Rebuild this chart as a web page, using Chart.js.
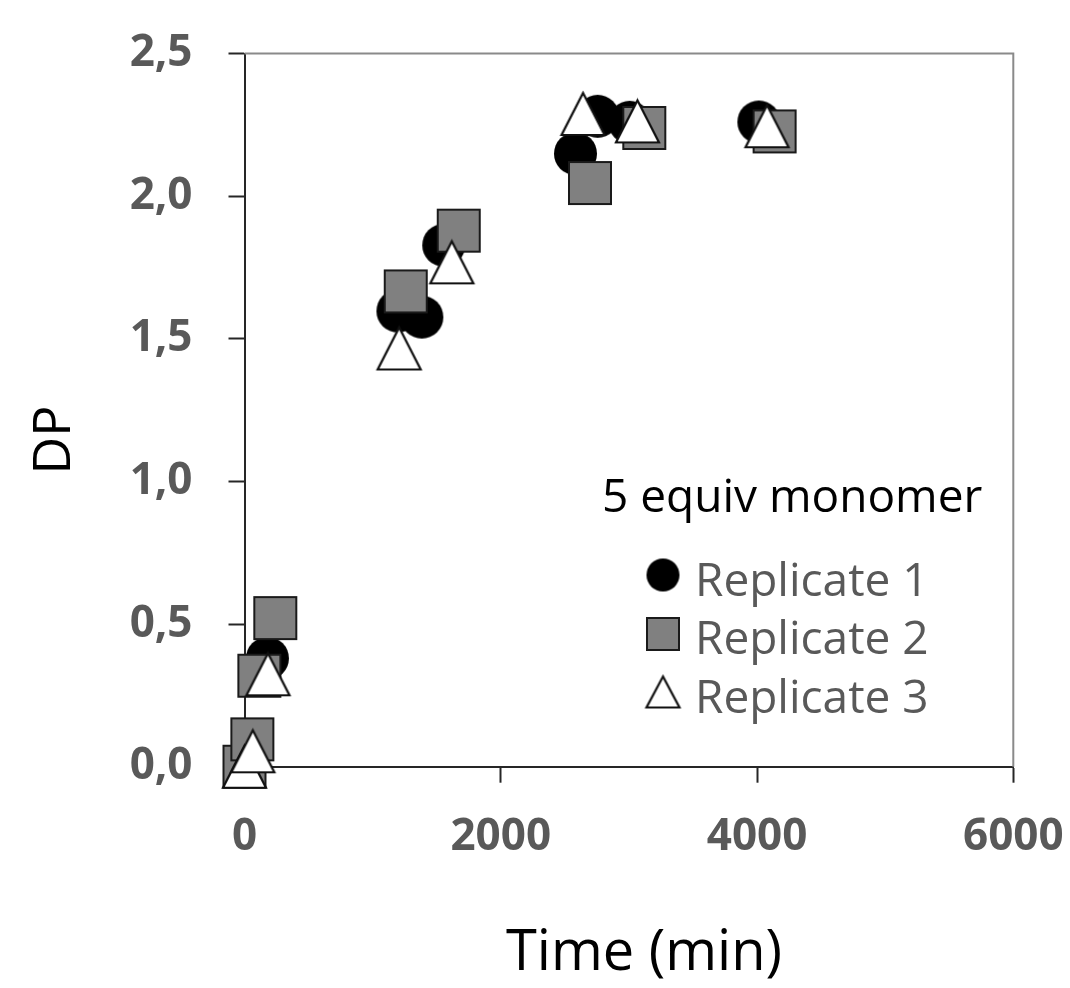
<!DOCTYPE html>
<html><head><meta charset="utf-8">
<script src="https://cdn.jsdelivr.net/npm/chart.js@4.4.1/dist/chart.umd.min.js"></script>
<style>html,body{margin:0;padding:0;background:#fff;} #wrap{width:1070px;height:988px;position:relative;}</style>
</head><body><div id="wrap"><canvas id="c" width="1070" height="988"></canvas></div>
<script>
// ---- data ----
const seriesNames = ['Replicate 1', 'Replicate 2', 'Replicate 3'];
const legendTitle = '5 equiv monomer';
const rep1Time = [0, 179, 1197, 1384, 1555, 2583, 2756, 3006, 4014];
const rep1DP   = [0, 0.38, 1.597, 1.576, 1.828, 2.149, 2.28, 2.259, 2.26];
const rep2Time = [0, 61, 116, 240, 1258, 1672, 2696, 3120, 4137];
const rep2DP   = [0, 0.096, 0.319, 0.521, 1.666, 1.879, 2.046, 2.239, 2.227];
const rep3Time = [0, 65, 183, 1207, 1618, 2642, 3067, 4078];
const rep3DP   = [0, 0.054, 0.324, 1.466, 1.768, 2.288, 2.262, 2.245];
const xTickValues = [0, 2000, 4000, 6000];
const xTickLabels = ['0', '2000', '4000', '6000'];
const yTickValues = [0, 0.5, 1, 1.5, 2, 2.5];
const yTickLabels = ['0,0', '0,5', '1,0', '1,5', '2,0', '2,5'];
const xTitle = 'Time (min)';
const yTitle = 'DP';

// ---- marker images ----
function makeMarker(type, w, h) {
  const pad = 3;
  const c = document.createElement('canvas');
  const dpr = window.devicePixelRatio || 1;
  c.width = (w + pad * 2) * dpr; c.height = (h + pad * 2) * dpr;
  const g = c.getContext('2d');
  g.scale(dpr, dpr);
  const cx = pad + w / 2, cy = pad + h / 2;
  g.lineJoin = 'miter';
  if (type === 'circle') {
    g.beginPath(); g.arc(cx, cy, w / 2, 0, Math.PI * 2);
    g.fillStyle = '#000'; g.fill();
  } else if (type === 'square') {
    g.fillStyle = '#808080'; g.fillRect(pad, pad, w, h);
    g.strokeStyle = '#1a1a1a'; g.lineWidth = 2; g.strokeRect(pad, pad, w, h);
  } else {
    g.beginPath(); g.moveTo(cx, pad); g.lineTo(pad + w, pad + h); g.lineTo(pad, pad + h); g.closePath();
    g.fillStyle = '#fff'; g.fill();
    g.strokeStyle = '#111'; g.lineWidth = 2.2; g.stroke();
  }
  const out = new Image();
  out.width = w + pad * 2; out.height = h + pad * 2;
  out.src = c.toDataURL();
  return out;
}
const plotMarkers = [makeMarker('circle', 43, 43), makeMarker('square', 42, 42), makeMarker('triangle', 43, 42)];
const legendMarkers = [makeMarker('circle', 33, 33), makeMarker('square', 32, 32), makeMarker('triangle', 33, 31)];

function pts(xs, ys) { return xs.map((x, i) => ({ x: x, y: ys[i] })); }

const framePlugin = {
  id: 'frame',
  beforeDatasetsDraw(chart) {
    const { ctx, chartArea: a } = chart;
    ctx.save();
    ctx.strokeStyle = '#8a8a8a'; ctx.lineWidth = 2;
    ctx.beginPath(); ctx.moveTo(a.left, a.top); ctx.lineTo(a.right, a.top); ctx.lineTo(a.right, a.bottom); ctx.stroke();
    ctx.restore();
  }
};

const titlesPlugin = {
  id: 'axisTitles',
  afterDraw(chart) {
    const ctx = chart.ctx;
    ctx.save();
    ctx.fillStyle = '#000';
    ctx.textAlign = 'center'; ctx.textBaseline = 'middle';
    ctx.font = '56px "Open Sans"';
    ctx.fillText(xTitle, 644, 954);
    ctx.translate(55, 440);
    ctx.rotate(-Math.PI / 2);
    ctx.font = '52px "Open Sans"';
    ctx.fillText(yTitle, 0, 0);
    ctx.restore();
  }
};

const legendPlugin = {
  id: 'insideLegend',
  afterDatasetsDraw(chart) {
    const ctx = chart.ctx;
    ctx.save();
    ctx.font = '46px "Open Sans"';
    ctx.fillStyle = '#000';
    ctx.textAlign = 'left'; ctx.textBaseline = 'middle';
    ctx.fillText(legendTitle, 602, 499);
    const rowsMarker = [575, 634, 692];
    const rowsText = [583, 641, 700];
    chart.data.datasets.forEach((ds, i) => {
      const m = legendMarkers[i];
      ctx.drawImage(m, 663 - m.width / 2, rowsMarker[i] - m.height / 2, m.width, m.height);
      ctx.fillStyle = '#595959';
      ctx.fillText(ds.label, 695, rowsText[i]);
    });
    ctx.restore();
  }
};

function build() {
  new Chart(document.getElementById('c'), {
    type: 'scatter',
    data: {
      datasets: [
        { label: seriesNames[0], data: pts(rep1Time, rep1DP), pointStyle: plotMarkers[0], order: 3, clip: false },
        { label: seriesNames[1], data: pts(rep2Time, rep2DP), pointStyle: plotMarkers[1], order: 2, clip: false },
        { label: seriesNames[2], data: pts(rep3Time, rep3DP), pointStyle: plotMarkers[2], order: 1, clip: false }
      ]
    },
    options: {
      responsive: false,
      animation: false,
      events: [],
      layout: { padding: { top: 53.5, right: 56.7, left: 0, bottom: 0 } },
      plugins: { legend: { display: false }, tooltip: { enabled: false } },
      scales: {
        x: {
          type: 'linear', position: 'bottom', min: 0, max: 6000,
          afterBuildTicks: s => { s.ticks = xTickValues.map(v => ({ value: v })); },
          afterFit: s => { s.height = 988 - 766.7; s.paddingLeft = 0; s.paddingRight = 0; },
          ticks: {
            callback: v => xTickLabels[xTickValues.indexOf(v)],
            font: { family: 'Open Sans', size: 44, weight: 'bold' }, color: '#595959',
            padding: 28, maxRotation: 0, autoSkip: false
          },
          grid: { drawOnChartArea: false, drawTicks: true, tickLength: 16, tickColor: '#262626', tickWidth: 2 },
          border: { display: true, color: '#262626', width: 2 },
          title: { display: false, text: xTitle }
        },
        y: {
          type: 'linear', position: 'left', min: 0, max: 2.5,
          afterBuildTicks: s => { s.ticks = yTickValues.map(v => ({ value: v })); },
          afterFit: s => { s.width = 244.5; s.paddingTop = 0; s.paddingBottom = 0; },
          ticks: {
            callback: v => yTickLabels[yTickValues.indexOf(v)],
            font: { family: 'Open Sans', size: 44, weight: 'bold' }, color: '#595959',
            padding: 36, autoSkip: false
          },
          grid: { drawOnChartArea: false, drawTicks: true, tickLength: 16, tickColor: '#262626', tickWidth: 2 },
          border: { display: true, color: '#262626', width: 2 },
          title: { display: false, text: yTitle }
        }
      }
    },
    plugins: [framePlugin, legendPlugin, titlesPlugin]
  });
}
Promise.all([
  document.fonts.load('bold 44px "Open Sans"'),
  document.fonts.load('46px "Open Sans"'),
  ...plotMarkers.concat(legendMarkers).map(im => im.complete ? Promise.resolve() : new Promise(r => { im.onload = r; }))
]).then(build, build);
</script>
</body></html>
